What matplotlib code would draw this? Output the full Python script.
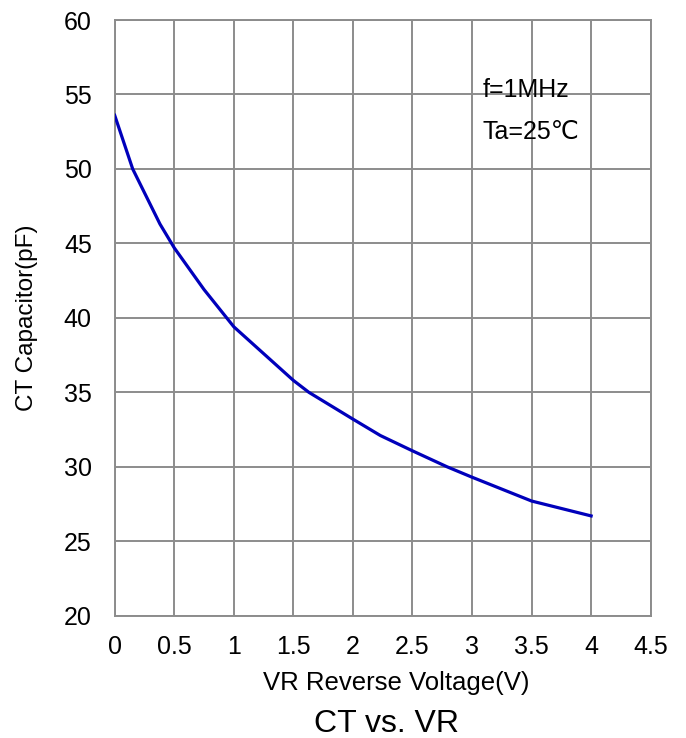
import matplotlib.pyplot as plt

plt.rcParams['font.family'] = ['Liberation Sans', 'DejaVu Sans']

# CT vs VR
vr = [0, 0.151, 0.38, 0.5, 0.75, 1.0, 1.25, 1.5, 1.63, 2.0, 2.23, 2.5, 2.79, 3.0, 3.5, 4.0]
ct = [53.6, 50.0, 46.3, 44.7, 41.9, 39.4, 37.6, 35.8, 35.0, 33.2, 32.1, 31.07, 30.0, 29.3, 27.7, 26.7]

x_ticks = [0, 0.5, 1, 1.5, 2, 2.5, 3, 3.5, 4, 4.5]
x_labels = ["0", "0.5", "1", "1.5", "2", "2.5", "3", "3.5", "4", "4.5"]
y_ticks = [20, 25, 30, 35, 40, 45, 50, 55, 60]

GRID = "#8c8c8c"
W, H = 686, 738

fig = plt.figure(figsize=(W / 100, H / 100), dpi=100)
ax = fig.add_axes([114.7 / W, 1 - 615.7 / H, 536 / W, 595.7 / H])

ax.plot(vr, ct, color="#0000bb", linewidth=2.3, solid_joinstyle="round", zorder=3)

ax.set_xlim(0, 4.5)
ax.set_ylim(20, 60)
ax.set_xticks(x_ticks)
ax.set_xticklabels(x_labels)
ax.set_yticks(y_ticks)
ax.tick_params(length=0, labelsize=18, colors="black")
ax.tick_params(axis="x", pad=14)
ax.tick_params(axis="y", pad=16.5)
ax.grid(True, color=GRID, linewidth=1.4)
for s in ax.spines.values():
    s.set_color(GRID)
    s.set_linewidth(1.4)

ax.text(3.086, 54.81, "f=1MHz", fontsize=18, va="baseline", ha="left")
ax.text(3.09, 52.01, "Ta=25℃", fontsize=18, va="baseline", ha="left")

fig.text(396.7 / W, 1 - 690 / H, "VR Reverse Voltage(V)", fontsize=18.5,
         ha="center", va="baseline")
fig.text(27 / W, 1 - 318 / H, "CT Capacitor(pF)", fontsize=17.5,
         rotation=90, ha="center", va="center")
fig.text(386 / W, 1 - 731.5 / H, "CT vs. VR", fontsize=23, ha="center", va="baseline")

fig.savefig("out.png", dpi=100, facecolor="white")
